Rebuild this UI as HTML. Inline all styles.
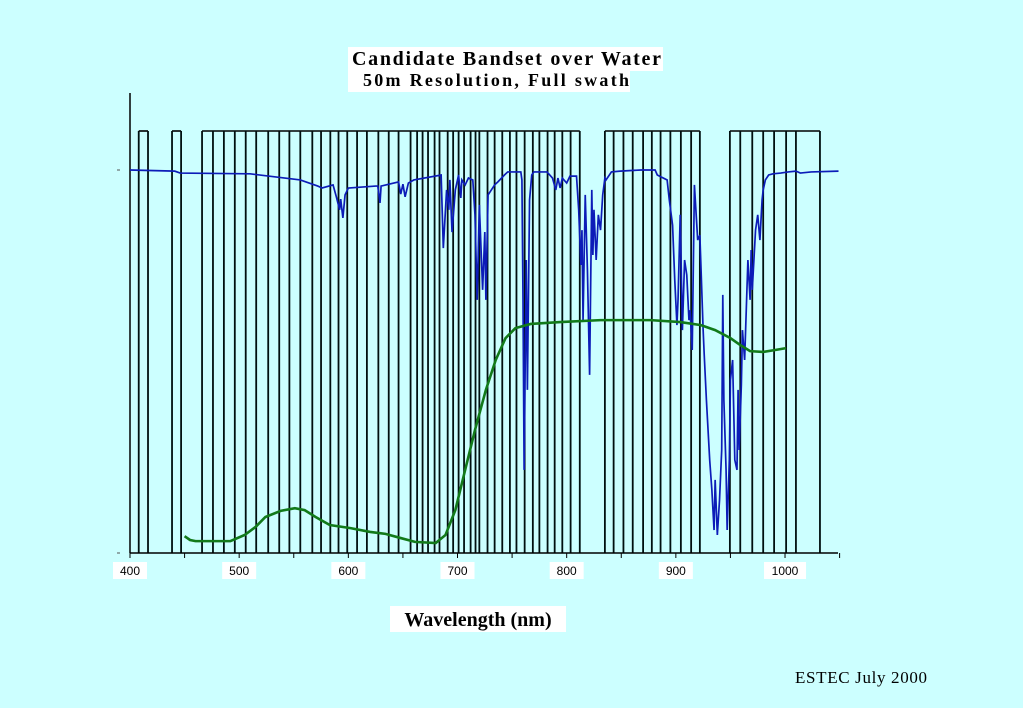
<!DOCTYPE html>
<html><head><meta charset="utf-8"><style>
body{margin:0;background:#ccffff;width:1023px;height:708px;overflow:hidden;font-family:"Liberation Serif",serif}
svg{position:absolute;left:0;top:0}
</style></head><body>
<svg width="1023" height="708">
<rect x="348" y="47" width="315" height="24" fill="#fff"/>
<rect x="348" y="70" width="282" height="22" fill="#fff"/>
<text x="352" y="65" font-size="20" font-weight="bold" textLength="309" lengthAdjust="spacing" font-family="Liberation Serif,serif">Candidate Bandset over Water</text>
<text x="363" y="86" font-size="18" font-weight="bold" textLength="266" lengthAdjust="spacing" font-family="Liberation Serif,serif">50m Resolution, Full swath</text>
<g id="bands"></g><g id="axes"></g><g id="lines"></g>
<rect x="390" y="606" width="176" height="26" fill="#fff"/>
<text x="478" y="626" font-size="20" font-weight="bold" text-anchor="middle">Wavelength (nm)</text>
<text x="795" y="683" font-size="17" textLength="132" lengthAdjust="spacing">ESTEC July 2000</text>
</svg>
<script>
const bandGroups=[[408,416.5],[438.5,446.8],[466,476,486,496,506,515.6,526.6,536.7,546,556,567,575,583.5,591,599,608,617,627.5,637,646,657,663,668,673,679,683.5,691,696,701,706,712,716.5,720,727.5,734,741,748,754,761.5,769,775,782.5,789,796,803.6,812],[835,843,852,860.5,870,878,886,895,904.6,914,922],[949.5,959,970,980,990,1001,1010,1032]];
const blueNm=[400,441,446,510,556,572,576,586,589,592,593,595,597,600,625,627,629,630,646,648,650,652,655,660,685,687,690,692,693,695,698,701,703,704,707,710,714,716,718,720,723,725,726,728,731,734,737,743,746,758,759,760,761,763,764,766,768,770,782,787,790,792,794,796,800,803,809,811,813,814,815,817,819,821,823,824,825,827,829,831,833,835,836,841,849,868,881,883,892,894,897,899,901,902,904,906,908,910,912,913,915,917,920,922,925,926,928,931,933,935,936,938,940,942,943,944,946,947,949,950,952,954,956,957,958,960,961,963,966,968,969,970,973,975,977,979,980,982,985,989,996,1003,1010,1014,1024,1049];
const blueVal=[100,99.7,99.2,99,97.4,95.8,95.3,96.1,93,89.6,92.4,87.5,93.5,95.3,95.8,95.8,91.4,95.8,96.9,93.7,96.3,93,96.6,97.4,98.7,79.6,94.8,89.6,97.4,83.8,94.8,98.7,92.7,97.4,96.1,97.9,97.4,88.3,66.1,90.9,68.7,83.8,66.1,93.5,94.8,96.1,96.9,98.7,99.5,99.5,97.4,66.1,21.7,76.5,42.6,92.2,98.7,99.5,99.5,97.9,94.8,97.9,95.3,97.9,96.6,98.4,98.4,89.6,75.2,84.3,60.8,93.5,73.9,46.5,94.8,77.8,89.6,76.5,88.3,84.3,93.5,97.9,97.4,99.5,99.7,100,100,98.7,97.4,92.2,85.6,71.3,59.5,66.1,88.3,58.2,76.5,72.6,60.8,63.4,53,96.1,81.7,83,58.2,51.7,39.9,24.3,16.4,6,19.1,4.7,13.8,26.9,67.4,39.9,21.7,6,24.3,45.2,50.4,24.3,21.7,42.6,26.9,43.9,58.2,50.4,76.5,66.1,79.1,68.7,84.3,88.3,81.7,92.2,94.8,97.4,98.7,99,99.2,99.5,99.7,99.2,99.5,99.7];
const greenNm=[450,455,460,492,505,515,524,538,551,560,570,583,602,620,634,648,661,680,689,698,707,716,726,735,744,753,767,794,831,877,904,923,936,950,959,968,980,991,1001];
const greenVal=[4.4,3.4,3.1,3.1,4.7,6.8,9.4,11,11.7,11.2,9.4,7.3,6.5,5.5,5,3.9,2.9,2.6,4.7,11.2,21.7,32.1,42.6,50.4,56.1,58.7,59.8,60.3,60.8,60.8,60.3,59.5,58.2,56.1,54.3,52.7,52.5,53,53.5];
const xTicks=[400,500,600,700,800,900,1000];
const NS="http://www.w3.org/2000/svg";
const X=nm=>130+(nm-400)*1.0917;
const Y=v=>553-v*3.83;
const TOP=131,BASE=553;
function mk(t,a,p){const e=document.createElementNS(NS,t);for(const k in a)e.setAttribute(k,a[k]);p.appendChild(e);return e;}
const gb=document.getElementById('bands');
bandGroups.forEach((g,gi)=>{
  const top=mk('line',{x1:X(g[0]),x2:X(g[g.length-1]),y1:TOP,y2:TOP,stroke:'#000','stroke-width':1.6},gb);
  
  
  g.forEach((nm,i)=>{
    const l=mk('line',{x1:X(nm),x2:X(nm),y1:TOP,y2:BASE,stroke:'#001010','stroke-width':1.8},gb);
    
    
  });
});
const ga=document.getElementById('axes');
let ax=mk('line',{x1:130,x2:838,y1:BASE,y2:BASE,stroke:'#000','stroke-width':1.5},ga);


let ay=mk('line',{x1:130,x2:130,y1:93,y2:BASE,stroke:'#000','stroke-width':1.5},ga);


[0,100].forEach(v=>{const t=mk('line',{x1:117,x2:120,y1:Y(v),y2:Y(v),stroke:'#555'},ga);
  
  });
for(let nm=400;nm<=1050;nm+=50){const t=mk('line',{x1:X(nm),x2:X(nm),y1:BASE,y2:BASE+5,stroke:'#000'},ga);
  
  }
xTicks.forEach(nm=>{
  const w=String(nm).length*8+10;
  const r=mk('rect',{x:X(nm)-w/2,y:562,width:w,height:17,fill:'#fff'},ga);
  
  
  const t=mk('text',{x:X(nm),y:575,'font-size':12,'text-anchor':'middle','font-family':'Liberation Sans,sans-serif'},ga);
  t.textContent=nm;
  
  
});
const gl=document.getElementById('lines');
const pb=mk('polyline',{points:blueNm.map((n,i)=>X(n)+','+Y(blueVal[i])).join(' '),fill:'none',stroke:'#0c1cb8','stroke-width':1.7},gl);


const pg=mk('polyline',{points:greenNm.map((n,i)=>X(n)+','+Y(greenVal[i])).join(' '),fill:'none',stroke:'#127a1a','stroke-width':2.6},gl);


</script>
</body></html>
